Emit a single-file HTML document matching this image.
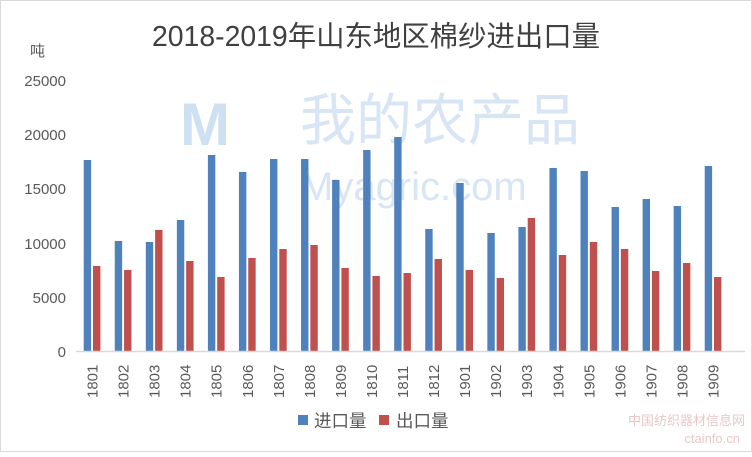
<!DOCTYPE html><html><head><meta charset="utf-8"><style>body{margin:0;background:#fff}</style></head><body>
<svg width="752" height="452" xmlns="http://www.w3.org/2000/svg" font-family="Liberation Sans, Noto Sans CJK SC, sans-serif">
<rect x="0.5" y="0.5" width="751" height="451" fill="#fff" stroke="#d9d9d9"/>
<text x="376" y="46" font-size="28.4" text-anchor="middle" fill="#404040">2018-2019年山东地区棉纱进出口量</text>
<text x="30" y="56" font-size="15" fill="#595959">吨</text>
<g font-size="15" fill="#595959" text-anchor="end">
<text x="66" y="357">0</text><text x="66" y="303">5000</text><text x="66" y="249">10000</text><text x="66" y="194">15000</text><text x="66" y="140">20000</text><text x="66" y="86">25000</text></g>
<text x="180" y="145" font-size="60" fill="#cfe0f3" font-weight="bold">M</text>
<text x="300" y="140" font-size="56" fill="#d7e5f5">我的农产品</text>
<text x="300" y="200" font-size="40" fill="#d7e5f5">Myagric.com</text>
<g id="b"></g>
<line x1="76" y1="351.5" x2="745" y2="351.5" stroke="#d9d9d9" stroke-width="1.5"/>
<rect x="298" y="415" width="10" height="10" fill="#4f81bd"/><text x="314" y="427" font-size="17.5" fill="#595959">进口量</text>
<rect x="379" y="415" width="10" height="10" fill="#c0504d"/><text x="396" y="427" font-size="17.5" fill="#595959">出口量</text>
<text x="745" y="425" font-size="13" fill="#e8c8c8" text-anchor="end">中国纺织器材信息网</text>
<text x="740" y="443" font-size="13" fill="#e8c8c8" text-anchor="end">ctainfo.cn</text>
</svg>
<script>
var B=[160,241,242,220,155,172,159,159,180,150,137,229,183,233,227,168,171,207,199,206,166];
var R=[266,270,230,261,277,258,249,245,268,276,273,259,270,278,218,255,242,249,271,263,277];
var L=["1801","1802","1803","1804","1805","1806","1807","1808","1809","1810","1811","1812","1901","1902","1903","1904","1905","1906","1907","1908","1909"];
var s="";for(var i=0;i<21;i++){var x=83.7+i*31.05;
s+='<rect x="'+x+'" y="'+B[i]+'" width="7.4" height="'+(351-B[i])+'" fill="#4f81bd"/>';
s+='<rect x="'+(x+9.3)+'" y="'+R[i]+'" width="7.4" height="'+(351-R[i])+'" fill="#c0504d"/>';
var cx=x+8.3;s+='<text transform="translate('+(cx+5.5)+',398) rotate(-90)" font-size="15" fill="#595959">'+L[i]+'</text>';}
document.getElementById("b").innerHTML=s;
</script></body></html>
